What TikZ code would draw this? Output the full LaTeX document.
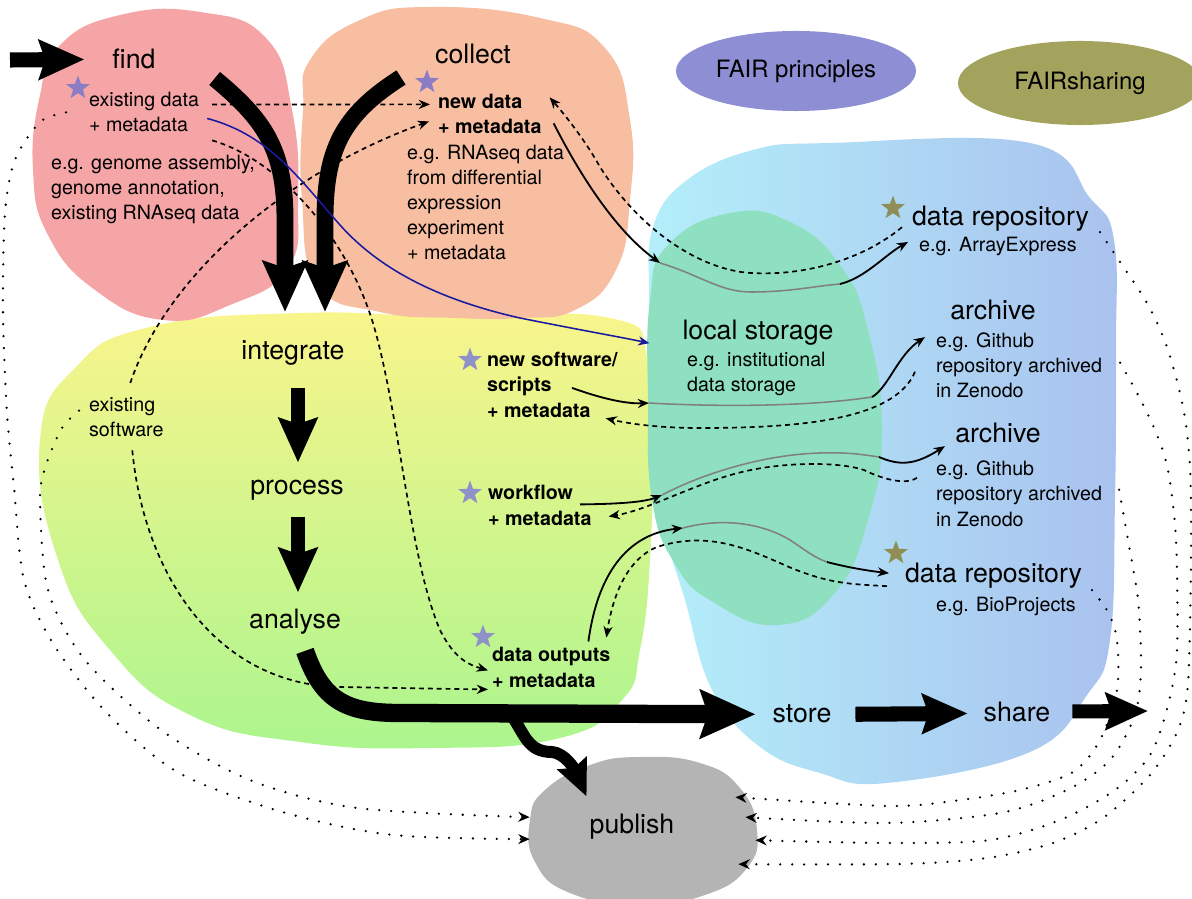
\documentclass[tikz,border=0pt]{standalone}
\usepackage{fontspec}
\setmainfont{TeX Gyre Heros}
\usetikzlibrary{arrows.meta,shapes.geometric,calc}

\definecolor{findred}{HTML}{F5A5A6}
\definecolor{collectpeach}{HTML}{F7BEA2}
\definecolor{intyellow}{HTML}{F9F58C}
\definecolor{intgreen}{HTML}{ACF58E}
\definecolor{storecyan}{HTML}{B4EFFA}
\definecolor{storeblue}{HTML}{A9C2EE}
\definecolor{localgreen}{HTML}{8EE0C1}
\definecolor{pubgray}{HTML}{B4B4B4}
\definecolor{fairblue}{HTML}{8E8ED4}
\definecolor{fairolive}{HTML}{A3A35E}
\definecolor{starpurple}{HTML}{8B7CC6}
\definecolor{starblue}{HTML}{8E92C6}
\definecolor{starolive}{HTML}{8E8E56}
\definecolor{navy}{HTML}{1A1AA0}

\tikzset{
  bigtext/.style={font=\fontsize{19}{22}\selectfont, inner sep=2pt},
  smalltext/.style={font=\fontsize{14}{17.8}\selectfont, align=left, inner sep=2pt, anchor=base west},
  boldtext/.style={smalltext, font=\fontsize{14}{17.8}\selectfont\bfseries},
  fatarrow/.style={line width=#1, -{Stealth[length=0pt 3, width=0pt 2.6, inset=0pt 0.4]}},
  flowline/.style={line width=1.3pt, -{Stealth[length=8pt, width=6.5pt]}},
  backline/.style={line width=1.2pt, dash pattern=on 3.5pt off 2.8pt, -{Stealth[length=8pt, width=6.5pt]}},
  thruline/.style={line width=1.1pt, black!50},
  dotline/.style={line width=1.8pt, line cap=round, dash pattern=on 0pt off 8.5pt, -{Stealth[length=8pt, width=7pt]}},
  bluestar/.style={star, star points=5, star point ratio=2.4, fill=starblue, inner sep=0pt, minimum size=0.62cm},
  olivestar/.style={bluestar, fill=starolive},
}

\begin{document}
\begin{tikzpicture}[x=0.025cm, y=-0.025cm]
    \useasboundingbox (0,0) rectangle (1192,899);
    \clip (0,0) rectangle (1192,899);

    % areas
    \shade[top color=intyellow, middle color=intyellow!85!intgreen, bottom color=intgreen]
      plot[smooth cycle, tension=0.8] coordinates {(40,440) (75,368) (150,327) (300,313) (450,317) (610,318) (648,360) (652,450) (650,560) (640,650) (622,700) (560,738) (430,748) (300,742) (190,715) (110,650) (58,560)};
    \shade[left color=storecyan, right color=storeblue]
      plot[smooth cycle, tension=0.7] coordinates {(649,300) (653,227) (687,180) (753,150) (830,143) (1030,143) (1090,198) (1114,240) (1116,350) (1115,500) (1110,640) (1087,695) (1030,752) (887,783) (820,773) (760,747) (712,690) (685,600) (662,520) (650,420)};
    \fill[localgreen] plot[smooth cycle, tension=0.8] coordinates {(648,400) (650,300) (668,245) (730,213) (790,222) (840,265) (868,330) (882,430) (868,520) (834,594) (777,625) (713,602) (675,564) (652,500)};
    \fill[findred] plot[smooth cycle, tension=0.8] coordinates {(60,45) (120,15) (200,12) (266,38) (292,110) (298,200) (288,268) (230,305) (163,320) (95,290) (48,235) (33,170) (40,95)};
    \fill[collectpeach] plot[smooth cycle, tension=0.8] coordinates {(310,60) (360,20) (430,7) (540,18) (605,48) (630,120) (630,200) (616,270) (575,310) (520,318) (456,318) (380,312) (318,285) (302,200) (303,110)};
    \fill[pubgray] plot[smooth cycle, tension=0.8] coordinates {(545,790) (590,765) (640,757) (700,763) (740,788) (757,830) (747,868) (705,895) (640,905) (570,893) (535,862) (530,820)};

    \node[ellipse, fill=fairblue, minimum width=5.65cm, minimum height=2cm, font=\fontsize{17}{20}\selectfont] (fair) at (796,71) {FAIR principles};
    \node[ellipse, fill=fairolive, minimum width=6.1cm, minimum height=2.1cm, font=\fontsize{17}{20}\selectfont] (fairsharing) at (1080,83) {FAIRsharing};

    % stars
    \node[bluestar, fill=starpurple] (sexist) at (78,88) {};
    \node[bluestar, fill=starpurple] (snew) at (427,82) {};
    \node[bluestar] (ssoft) at (470,360) {};
    \node[bluestar] (sflow) at (470,493) {};
    \node[bluestar] (sout) at (483,637) {};
    \node[olivestar] (srepo1) at (893,208) {};
    \node[olivestar] (srepo2) at (896,553) {};

    % texts (several lines: placed at the last baseline)
    \node[bigtext, anchor=base] (find) at (134,69) {find};
    \node[bigtext, anchor=base] (collect) at (473,64) {collect};
    \node[smalltext] (exdata) at (86,132) {existing data\\+ metadata};
    \node[smalltext] (exeg) at (48,220) {e.g. genome assembly,\\genome annotation,\\existing RNAseq data};
    \node[boldtext] (newdata) at (435,134) {new data\\+ metadata};
    \node[smalltext] (colleg) at (404,260) {e.g. RNAseq data\\from differential\\expression\\experiment\\+ metadata};
    \node[bigtext, anchor=base] (integrate) at (293,360) {integrate};
    \node[bigtext, anchor=base] (process) at (297,494) {process};
    \node[bigtext, anchor=base] (analyse) at (295,628) {analyse};
    \node[smalltext] (exsoft) at (86,437) {existing\\software};
    \node[boldtext] (newsoft) at (484,417) {new software/\\scripts\\+ metadata};
    \node[boldtext] (workflow) at (485,525) {workflow\\+ metadata};
    \node[boldtext] (dataout) at (489,687) {data outputs\\+ metadata};
    \node[bigtext, anchor=base] (local) at (758,340) {local storage};
    \node[smalltext] (localeg) at (684,392) {e.g. institutional\\data storage};
    \node[bigtext, anchor=base west] (repo1) at (909,226) {data repository};
    \node[smalltext] (repo1eg) at (916,252) {e.g. ArrayExpress};
    \node[bigtext, anchor=base] (arch1) at (993,320) {archive};
    \node[smalltext] (arch1eg) at (933,398) {e.g. Github\\repository archived\\in Zenodo};
    \node[bigtext, anchor=base] (arch2) at (998,442) {archive};
    \node[smalltext] (arch2eg) at (933,526) {e.g. Github\\repository archived\\in Zenodo};
    \node[bigtext, anchor=base west] (repo2) at (902,582) {data repository};
    \node[smalltext] (repo2eg) at (933,611) {e.g. BioProjects};
    \node[bigtext, anchor=base] (store) at (802,722) {store};
    \node[bigtext, anchor=base] (share) at (1017,721) {share};
    \node[bigtext, anchor=base] (publish) at (632,833) {publish};

    % free ends
    \coordinate (entry) at (10,60);
    \coordinate (exit) at (1148,711);
    \coordinate (split) at (512,716);
    \coordinate (in1) at (660,263);  \coordinate (out1) at (840,284);
    \coordinate (in2) at (649,403);  \coordinate (out2) at (872,397);
    \coordinate (in3) at (662,495);  \coordinate (out3) at (879,457);
    \coordinate (in4) at (683,528);  \coordinate (out4) at (827,562);

    % main flow
    \draw[fatarrow=10.7pt] (entry) -- ($(find.west)+(-25,0)$);
    \draw[fatarrow=12pt] ($(find.south east)+(56,6)$) .. controls (265,120) and (285,150) .. (285,220) -- ($(integrate.north)+(-8,-26)$);
    \draw[fatarrow=12pt] ($(collect.south west)+(-31,10)$) .. controls (342,115) and (325,150) .. (325,220) -- ($(integrate.north)+(32,-26)$);
    \draw[fatarrow=10.5pt] ($(integrate.south)+(5,19)$) -- ($(process.north)+(1,-14)$);
    \draw[fatarrow=10.5pt] ($(process.south)+(1,14)$) -- ($(analyse.north)+(3,-13)$);
    \draw[fatarrow=13pt] ($(analyse.south)+(10,14)$) .. controls (322,700) and (345,713) .. (400,713) -- ($(store.west)+(-14,1)$);
    \draw[fatarrow=8.5pt] (split) .. controls (525,735) and (528,752) .. (552,752) .. controls (565,753) and (575,770) .. ($(publish.north west)+(0,-14)$);
    \draw[fatarrow=10.7pt] ($(store.east)+(21,1)$) -- ($(share.west)+(-13,2)$);
    \draw[fatarrow=10pt] ($(share.east)+(19,0)$) -- (exit);

    % through local storage
    \draw[flowline] ($(newdata.east)+(9,9)$) .. controls (580,175) and (615,230) .. (in1);
    \draw[thruline] (in1) .. controls (700,275) and (720,292) .. (751,292) .. controls (790,292) and (815,286) .. (out1);
    \draw[flowline] (out1) .. controls (865,278) and (885,255) .. ($(repo1eg.west)+(-8,-5)$);
    \draw[backline] ($(repo1.west)+(-7,8)$) .. controls (860,262) and (800,276) .. (751,273) .. controls (700,270) and (640,230) .. (600,167) .. controls (585,140) and (565,115) .. ($(newdata.east)+(5,-17)$);

    \draw[flowline] ($(newsoft.west)+(88,3)$) .. controls (600,398) and (625,404) .. (in2);
    \draw[thruline] (in2) .. controls (700,406) and (800,408) .. (out2);
    \draw[flowline] (out2) .. controls (888,388) and (898,355) .. ($(arch1eg.north west)+(-8,7)$);
    \draw[backline] ($(arch1eg.west)+(-18,6)$) .. controls (895,420) and (800,428) .. (700,428) .. controls (660,428) and (630,424) .. ($(newsoft.south east)+(-15,-2)$);

    \draw[flowline] ($(workflow.west)+(95,-1)$) .. controls (620,504) and (645,502) .. (in3);
    \draw[thruline] (in3) .. controls (700,475) and (760,455) .. (819,453) .. controls (850,452) and (865,455) .. (out3);
    \draw[flowline] (out3) .. controls (900,466) and (915,465) .. ($(arch2eg.north west)+(12,-12)$);
    \draw[backline] ($(arch2eg.west)+(-16,-16)$) .. controls (905,486) and (880,478) .. (864,470) .. controls (840,462) and (790,462) .. (751,470) .. controls (700,480) and (650,510) .. ($(workflow.east)+(14,11)$);

    \draw[flowline] ($(dataout.north east)+(-25,-3)$) .. controls (596,585) and (620,535) .. (in4);
    \draw[thruline] (in4) .. controls (720,518) and (760,522) .. (790,540) .. controls (805,550) and (815,558) .. (out4);
    \draw[flowline] (out4) .. controls (850,568) and (870,571) .. ($(repo2.west)+(-13,-2)$);
    \draw[backline] ($(repo2.west)+(-15,11)$) .. controls (850,584) and (830,584) .. (789,567) .. controls (750,550) and (710,530) .. (657,547) .. controls (625,560) and (612,600) .. ($(dataout.north east)+(-7,-7)$);

    % reuse of what exists
    \draw[backline] ($(exdata.east)+(10,-8)$) -- ($(newdata.west)+(-5,-10)$);
    \draw[backline] ($(exsoft.north)+(4,-12)$) .. controls (165,280) and (280,175) .. ($(newdata.west)+(-6,7)$);
    \draw[backline] ($(exdata.south east)+(10,5)$) .. controls (280,160) and (350,240) .. (375,330) .. controls (400,420) and (410,560) .. (440,630) .. controls (455,660) and (470,665) .. ($(dataout.west)+(-1,3)$);
    \draw[backline] ($(exsoft.south)+(6,10)$) .. controls (145,580) and (220,685) .. (340,687) .. controls (400,688) and (450,689) .. ($(dataout.west)+(-1,22)$);
    \draw[line width=1.1pt, navy, -{Stealth[length=8pt, width=6.5pt]}] ($(exdata.east)+(5,6)$) .. controls (270,135) and (300,180) .. (340,225) .. controls (380,270) and (440,300) .. (520,318) .. controls (580,330) and (620,337) .. ($(local.west)+(-30,10)$);

    % links to publish
    \coordinate (lo1) at ($(exdata.west)+(-20,0)$);
    \coordinate (li1) at ($(exsoft.west)+(-7,-7)$);
    \coordinate (ra1) at ($(repo1.east)+(8,13)$);
    \coordinate (rb1) at ($(arch1eg.east)+(15,-3)$);
    \coordinate (rc1) at ($(arch2eg.east)+(14,-4)$);
    \coordinate (rd1) at ($(repo2.east)+(7,15)$);
    \coordinate (pl1) at ($(publish.west)+(-57,-9)$);
    \coordinate (pl2) at ($(publish.west)+(-57,13)$);
    \coordinate (pr1) at ($(publish.east)+(58,-29)$);
    \coordinate (pr2) at ($(publish.east)+(68,-9)$);
    \coordinate (pr3) at ($(publish.east)+(78,14)$);
    \coordinate (pr4) at ($(publish.east)+(61,38)$);
    \draw[dotline] plot[smooth, tension=0.5] coordinates {(lo1) (40,122) (15,160) (5,213) (3,313) (7,413) (14,487) (24,580) (54,645) (107,713) (179,773) (286,813) (393,835) (pl2)};
    \draw[dotline] plot[smooth, tension=0.5] coordinates {(li1) (62,428) (46,465) (40,500) (48,590) (85,660) (161,730) (250,780) (357,808) (pl1)};
    \draw[dotline] plot[smooth, tension=0.5] coordinates {(ra1) (1120,262) (1147,303) (1167,347) (1183,407) (1190,467) (1191,560) (1188,683) (1178,730) (1150,775) (1103,818) (1053,843) (987,858) (900,864) (pr4)};
    \draw[dotline] plot[smooth, tension=0.5] coordinates {(rb1) (1137,393) (1155,430) (1168,470) (1176,540) (1177,650) (1168,705) (1150,755) (1115,790) (1060,820) (990,840) (890,843) (pr3)};
    \draw[dotline] plot[smooth, tension=0.5] coordinates {(rc1) (1128,540) (1138,600) (1141,667) (1135,715) (1110,760) (1067,790) (1000,813) (887,823) (pr2)};
    \draw[dotline] plot[smooth, tension=0.5] coordinates {(rd1) (1108,612) (1117,640) (1117,690) (1100,740) (1073,772) (1020,790) (953,801) (887,806) (pr1)};
\end{tikzpicture}
\end{document}
